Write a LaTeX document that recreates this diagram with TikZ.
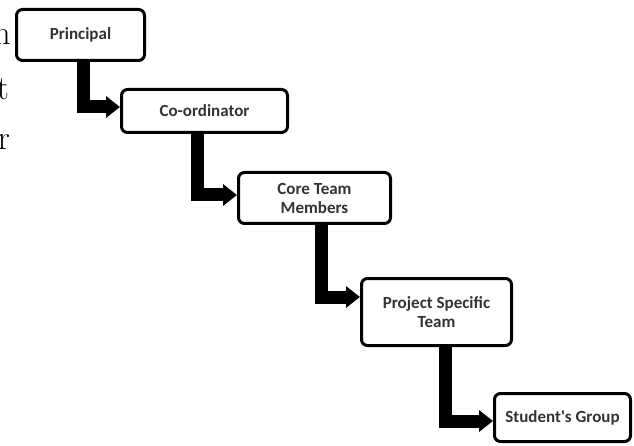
\documentclass[tikz,border=0pt]{standalone}
\usepackage{fontspec}
\setmainfont{Latin Modern Roman}
\newfontfamily\boxfont{Carlito}
\usetikzlibrary{arrows.meta,backgrounds}
\definecolor{txtgray}{HTML}{333333}
\tikzset{
  stagebox/.style={draw=black, line width=3pt, rounded corners=6pt, fill=white,
    font=\boxfont\bfseries\fontsize{17}{19}\selectfont, text=txtgray, align=center, inner sep=2pt},
  bigarrow/.style={line width=13pt, line join=miter, draw=black,
    -{Triangle[length=14pt,width=21pt]}},
  edgetext/.style={font=\fontsize{34}{40}\selectfont, anchor=base east, inner sep=0pt}
}
\begin{document}
\begin{tikzpicture}[x=1pt,y=-1pt]
\useasboundingbox (0,0) rectangle (634,446);
\node[edgetext] (l1) at (11,45) {n};
\node[edgetext] (l2) at (9,100) {t};
\node[edgetext] (l3) at (10,150) {r};

\node[stagebox, minimum width=128pt, minimum height=51pt] (p) at (80.5,35) {Principal};
\node[stagebox, minimum width=166pt, minimum height=43pt] (c) at (204.5,111) {Co-ordinator};
\node[stagebox, minimum width=152pt, minimum height=51pt] (m) at (314.5,198) {Core Team\\Members};
\node[stagebox, minimum width=150pt, minimum height=67pt] (t) at (436.5,312) {Project Specific\\Team};
\node[stagebox, minimum width=136pt, minimum height=48pt] (s) at (562.5,417.5) {Student's Group};

\begin{scope}[on background layer]
\draw[bigarrow] ([xshift=2.5pt]p.south) |- ([yshift=4pt]c.west);
\draw[bigarrow] ([xshift=-7.5pt]c.south) |- ([yshift=3pt]m.west);
\draw[bigarrow] ([xshift=6.5pt]m.south) |- ([yshift=15pt]t.west);
\draw[bigarrow] ([xshift=8.5pt]t.south) |- ([yshift=-3.5pt]s.west);
\end{scope}
\end{tikzpicture}
\end{document}
